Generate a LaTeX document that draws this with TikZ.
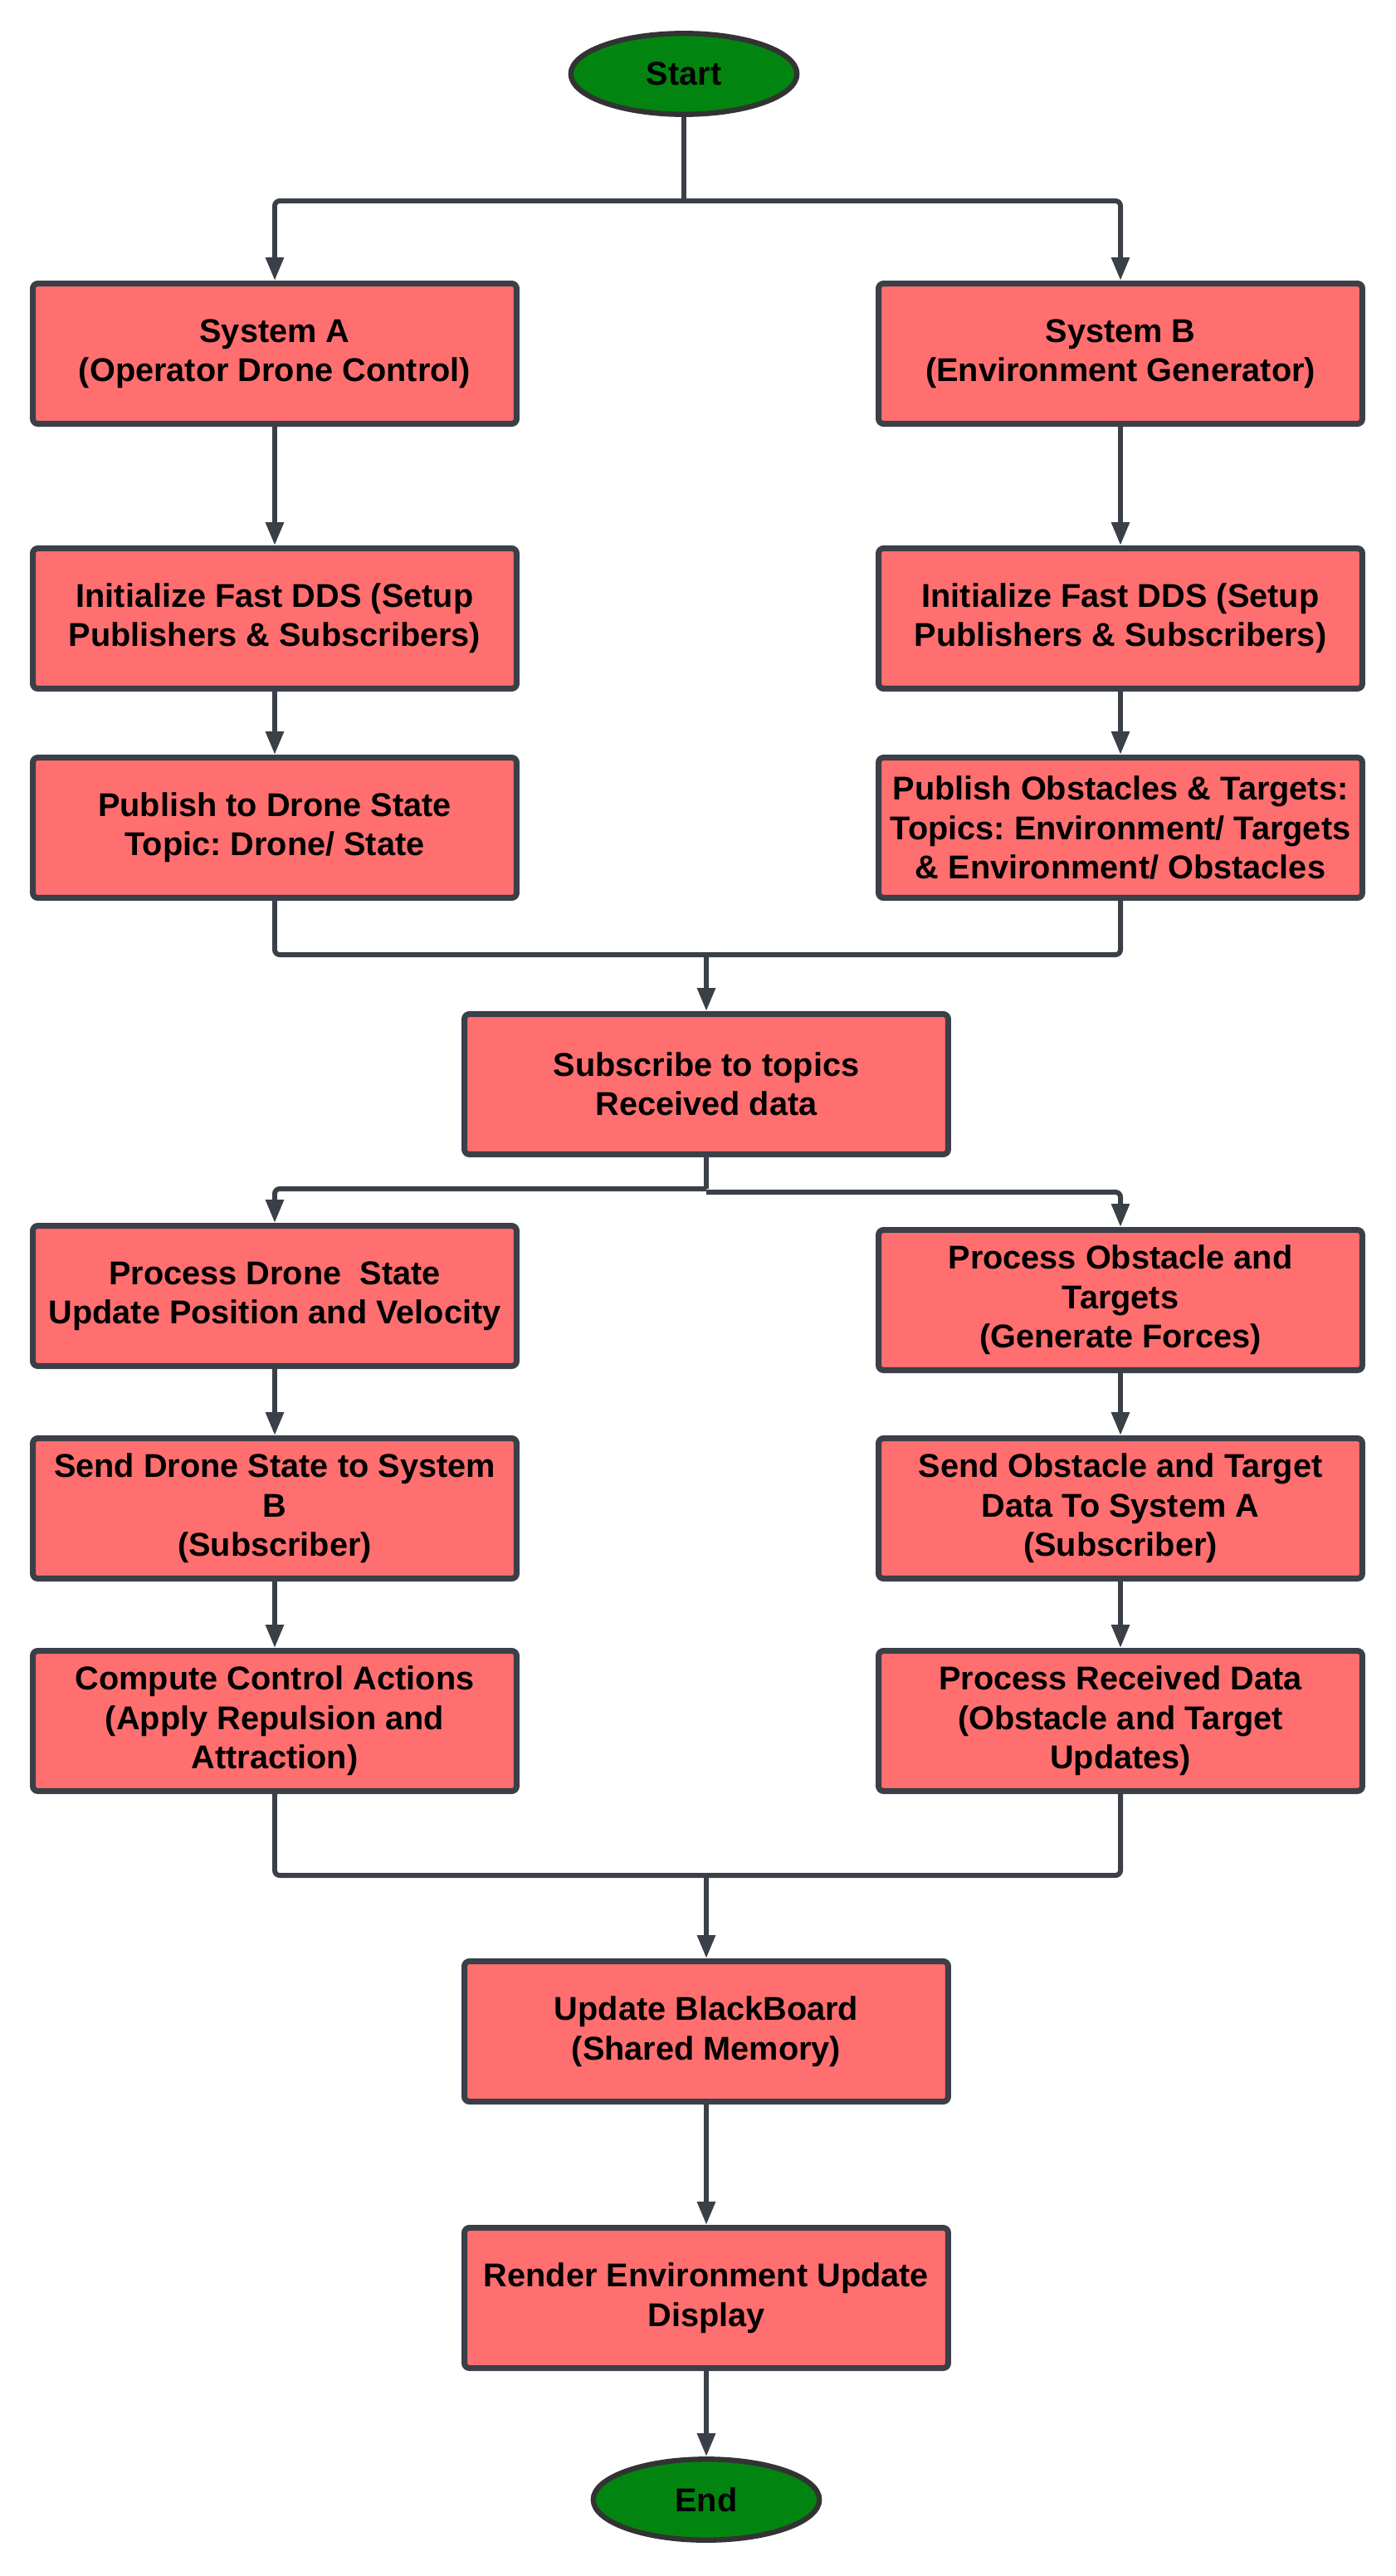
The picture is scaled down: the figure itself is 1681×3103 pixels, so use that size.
\documentclass[tikz,border=0pt]{standalone}
\usepackage{fontspec}
\setmainfont{Liberation Sans}
\usepackage{tikz}
\usetikzlibrary{arrows.meta,shapes.geometric}
\frenchspacing

\definecolor{boxred}{HTML}{FF6F6F}
\definecolor{boxedge}{HTML}{3A3F48}
\definecolor{termgreen}{HTML}{028510}
\definecolor{termedge}{HTML}{333333}

\begin{document}
\begin{tikzpicture}[x=0.02cm,y=-0.02cm]

	\tikzstyle process box=[rectangle, rounded corners=0.12cm, draw=boxedge, line width=4pt, fill=boxred,
		minimum width=11.66cm, minimum height=3.38cm, align=center, inner sep=0pt,
		font=\fontsize{22.6}{27}\selectfont\bfseries];
	\tikzstyle terminal=[ellipse, draw=termedge, line width=3.6pt, fill=termgreen,
		minimum width=5.45cm, minimum height=1.95cm, inner sep=0pt,
		font=\fontsize{22.6}{27}\selectfont\bfseries];
	\tikzstyle flow lines=[draw=boxedge, line width=3.4pt, rounded corners=0.12cm];
	\tikzstyle arrow lines=[flow lines, -{Triangle[length=0.56cm,width=0.42cm]}];

	\useasboundingbox (0,0) rectangle (1681,3103);

	% start and the two systems
	\node[terminal] (start) at (824,89) {Start};
	\node[process box] (sysA) at (331,426) {System A\\(Operator Drone Control)};
	\node[process box] (sysB) at (1350,426) {System B\\(Environment Generator)};

	\node[process box] (initA) at (331,745) {Initialize Fast DDS (Setup\\Publishers \& Subscribers)};
	\node[process box] (initB) at (1350,745) {Initialize Fast DDS (Setup\\Publishers \& Subscribers)};

	\node[process box] (pubA) at (331,997) {Publish to Drone State\\Topic: Drone/ State};
	\node[process box] (pubB) at (1350,997) {Publish Obstacles \& Targets:\\Topics: Environment/ Targets\\\& Environment/ Obstacles};

	\node[process box] (sub) at (851,1306) {Subscribe to topics\\Received data};

	% processing on both sides
	\node[process box] (procA) at (331,1561) {Process Drone\ \ State\\Update Position and Velocity};
	\node[process box] (procB) at (1350,1566) {Process Obstacle and\\Targets\\(Generate Forces)};

	\node[process box] (sendA) at (331,1817) {Send Drone State to System\\B\\(Subscriber)};
	\node[process box] (sendB) at (1350,1817) {Send Obstacle and Target\\Data To System A\\(Subscriber)};

	\node[process box] (compA) at (331,2073) {Compute Control Actions\\(Apply Repulsion and\\Attraction)};
	\node[process box] (compB) at (1350,2073) {Process Received Data\\(Obstacle and Target\\Updates)};

	\node[process box] (update) at (851,2447) {Update BlackBoard\\(Shared Memory)};
	\node[process box] (render) at (851,2768) {Render Environment Update\\Display};
	\node[terminal] (end) at (851,3011) {End};

	% branch and join points
	\coordinate (split1) at (824,242);
	\coordinate (join1) at (851,1150);
	\coordinate (split2) at (851,1432);
	\coordinate (split3) at (851,1436);
	\coordinate (join2) at (851,2259);

	\draw[flow lines] (start.south) -- (split1);
	\draw[arrow lines] (split1) -| (sysA.north);
	\draw[arrow lines] (split1) -| (sysB.north);

	\foreach \a/\b in {sysA/initA,initA/pubA,sysB/initB,initB/pubB,procA/sendA,sendA/compA,procB/sendB,sendB/compB,update/render,render/end}
		\draw[arrow lines] (\a) -- (\b);

	\draw[flow lines] (pubA.south) |- (join1) -| (pubB.south);
	\draw[arrow lines] (join1) -- (sub);

	\draw[flow lines] (sub.south) -- (split2);
	\draw[arrow lines] (split2) -| (procA.north);
	\draw[arrow lines] (split3) -| (procB.north);

	\draw[flow lines] (compA.south) |- (join2) -| (compB.south);
	\draw[arrow lines] (join2) -- (update);

\end{tikzpicture}
\end{document}
